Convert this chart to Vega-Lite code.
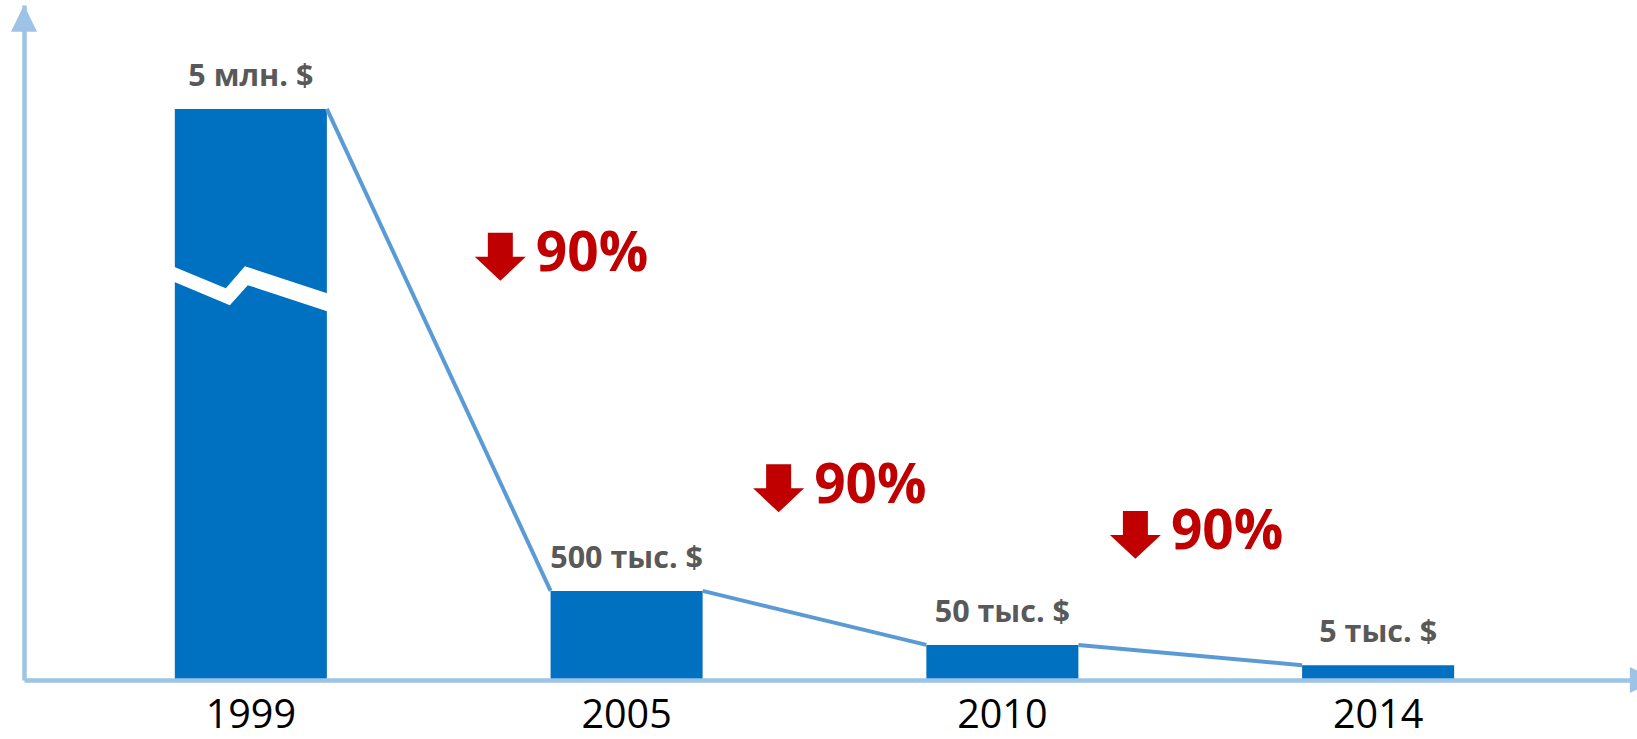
{
  "$schema": "https://vega.github.io/schema/vega-lite/v6.json",
  "width": 1613,
  "height": 675,
  "autosize": {"type": "none"},
  "padding": {"left": 24, "top": 5, "right": 0, "bottom": 59},
  "background": "white",
  "config": {"view": {"stroke": null}, "font": "Open Sans"},
  "datasets": {
    "years": [
      {"year": "1999", "value_usd": 5000000, "bar": 84.6, "label": "5 млн. $"},
      {"year": "2005", "value_usd": 500000, "bar": 13.2, "label": "500 тыс. $"},
      {"year": "2010", "value_usd": 50000, "bar": 5.2, "label": "50 тыс. $"},
      {"year": "2014", "value_usd": 5000, "bar": 2.2, "label": "5 тыс. $"}
    ],
    "links": [
      {"from": "1999", "to": "2005", "from_bar": 84.6, "to_bar": 13.2, "drop": "90%"},
      {"from": "2005", "to": "2010", "from_bar": 13.2, "to_bar": 5.2, "drop": "90%"},
      {"from": "2010", "to": "2014", "from_bar": 5.2, "to_bar": 2.2, "drop": "90%"}
    ]
  },
  "layer": [
    {
      "layer": [
        {
          "data": {"name": "years"},
          "mark": {"type": "bar", "color": "#0070C0"},
          "encoding": {
            "x": {
              "field": "year", "type": "nominal",
              "scale": {"type": "band", "domain": ["1999", "2005", "2010", "2014"], "paddingInner": 0.5954, "paddingOuter": 0.444, "align": 0.452, "round": false},
              "axis": {"title": null, "domain": true, "domainColor": "#9DC3E6", "domainWidth": 4.5, "ticks": false, "grid": false, "labelAngle": 0, "labelFont": "Open Sans", "labelFontSize": 39.5, "labelColor": "#000000", "labelBaseline": "bottom", "labelPadding": 55, "zindex": 1}
            },
            "y": {
              "field": "bar", "type": "quantitative",
              "scale": {"domain": [0, 100], "nice": false},
              "axis": {"title": null, "domain": true, "domainColor": "#9DC3E6", "domainWidth": 4.5, "ticks": false, "labels": false, "grid": false, "zindex": 1}
            }
          }
        },
        {
          "data": {"name": "links"},
          "mark": {"type": "rule", "color": "#5B9BD5", "strokeWidth": 4},
          "encoding": {
            "x": {"field": "from", "type": "nominal", "bandPosition": 1},
            "x2": {"field": "to", "bandPosition": 0},
            "y": {"field": "from_bar", "type": "quantitative"},
            "y2": {"field": "to_bar"}
          }
        },
        {
          "data": {"name": "years"},
          "transform": [{"filter": "datum.year == '1999'"}],
          "mark": {"type": "point", "shape": "M-1,-0.27L-0.3125,0.0125L-0.075,-0.2625L1,0.091L1,0.316L-0.0375,-0.025L-0.2625,0.225L-1,-0.084Z", "size": 25600, "filled": true, "color": "white", "opacity": 1, "strokeWidth": 0},
          "encoding": {
            "x": {"field": "year", "type": "nominal"},
            "y": {"datum": 58.2, "type": "quantitative"}
          }
        },
        {
          "data": {"name": "years"},
          "mark": {"type": "text", "font": "Open Sans", "fontWeight": "bold", "fontSize": 30.5, "color": "#595959", "baseline": "alphabetic", "align": "center", "dy": -23},
          "encoding": {
            "x": {"field": "year", "type": "nominal"},
            "y": {"field": "bar", "type": "quantitative"},
            "text": {"field": "label"}
          }
        },
        {
          "data": {"name": "links"},
          "transform": [{"filter": "datum.from == '1999'"}],
          "layer": [
            {
              "mark": {"type": "point", "shape": "M-0.49,-0.94L0.49,-0.94L0.49,0L1,0L0,0.94L-1,0L-0.49,0Z", "size": 2601, "filled": true, "color": "#C00000", "opacity": 1, "strokeWidth": 0},
              "encoding": {"x": {"field": "from", "type": "nominal", "bandPosition": 2.141}, "y": {"datum": 62.7, "type": "quantitative"}}
            },
            {
              "mark": {"type": "text", "font": "Open Sans", "fontWeight": "bold", "fontSize": 55, "color": "#C00000", "align": "left", "baseline": "alphabetic", "dx": 35.5, "dy": 14.5},
              "encoding": {"x": {"field": "from", "type": "nominal", "bandPosition": 2.141}, "y": {"datum": 62.7, "type": "quantitative"}, "text": {"field": "drop"}}
            }
          ]
        },
        {
          "data": {"name": "links"},
          "transform": [{"filter": "datum.from == '2005'"}],
          "layer": [
            {
              "mark": {"type": "point", "shape": "M-0.49,-0.94L0.49,-0.94L0.49,0L1,0L0,0.94L-1,0L-0.49,0Z", "size": 2601, "filled": true, "color": "#C00000", "opacity": 1, "strokeWidth": 0},
              "encoding": {"x": {"field": "from", "type": "nominal", "bandPosition": 1.5}, "y": {"datum": 28.4, "type": "quantitative"}}
            },
            {
              "mark": {"type": "text", "font": "Open Sans", "fontWeight": "bold", "fontSize": 55, "color": "#C00000", "align": "left", "baseline": "alphabetic", "dx": 35.5, "dy": 14.5},
              "encoding": {"x": {"field": "from", "type": "nominal", "bandPosition": 1.5}, "y": {"datum": 28.4, "type": "quantitative"}, "text": {"field": "drop"}}
            }
          ]
        },
        {
          "data": {"name": "links"},
          "transform": [{"filter": "datum.from == '2010'"}],
          "layer": [
            {
              "mark": {"type": "point", "shape": "M-0.49,-0.94L0.49,-0.94L0.49,0L1,0L0,0.94L-1,0L-0.49,0Z", "size": 2601, "filled": true, "color": "#C00000", "opacity": 1, "strokeWidth": 0},
              "encoding": {"x": {"field": "from", "type": "nominal", "bandPosition": 1.375}, "y": {"datum": 21.5, "type": "quantitative"}}
            },
            {
              "mark": {"type": "text", "font": "Open Sans", "fontWeight": "bold", "fontSize": 55, "color": "#C00000", "align": "left", "baseline": "alphabetic", "dx": 35.5, "dy": 14.5},
              "encoding": {"x": {"field": "from", "type": "nominal", "bandPosition": 1.375}, "y": {"datum": 21.5, "type": "quantitative"}, "text": {"field": "drop"}}
            }
          ]
        }
      ]
    },
    {
      "data": {"values": [{}]},
      "layer": [
        {
          "mark": {"type": "point", "shape": "M0,0L1,2.05L-1,2.05Z", "size": 676, "filled": true, "color": "#9DC3E6", "opacity": 1, "strokeWidth": 0},
          "encoding": {
            "x": {"datum": 0, "type": "quantitative", "scale": {"domain": [0, 1], "nice": false, "zero": false}, "axis": null},
            "y": {"datum": 100, "type": "quantitative"}
          }
        },
        {
          "mark": {"type": "point", "shape": "M1.5,0L-0.55,-1L-0.55,1Z", "size": 676, "filled": true, "color": "#9DC3E6", "opacity": 1, "strokeWidth": 0},
          "encoding": {
            "x": {"datum": 1, "type": "quantitative", "axis": null},
            "y": {"datum": 0, "type": "quantitative"}
          }
        }
      ]
    }
  ],
  "resolve": {"scale": {"x": "independent"}}
}
